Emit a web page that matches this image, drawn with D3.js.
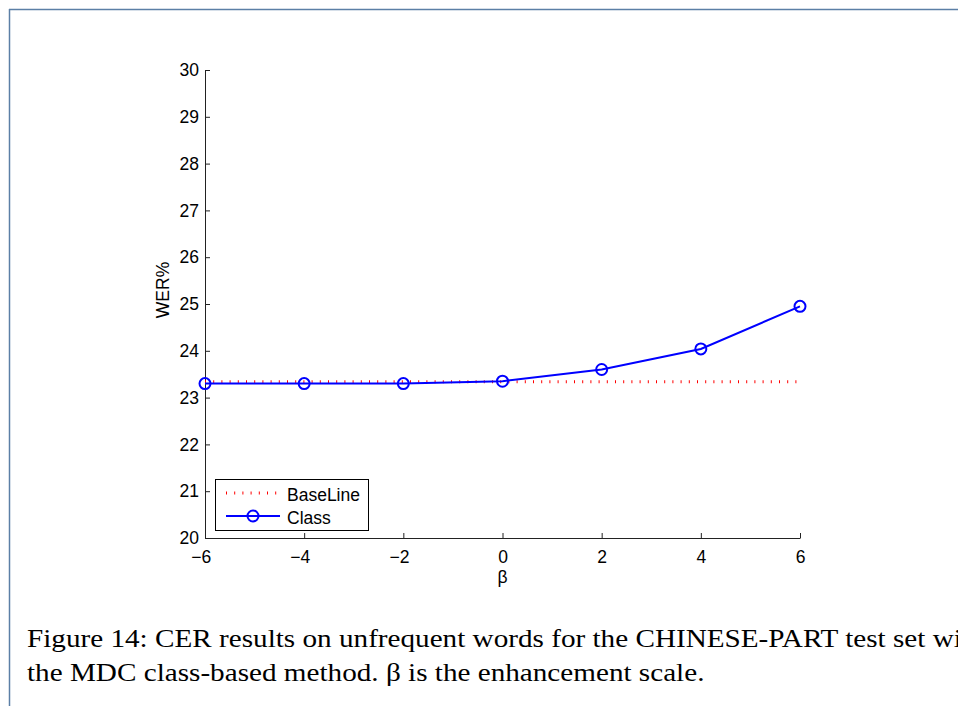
<!DOCTYPE html>
<html><head><meta charset="utf-8">
<script src="https://cdn.jsdelivr.net/npm/d3@7"></script>
<style>html,body{margin:0;padding:0;background:#fff;overflow:hidden}</style>
</head><body>
<svg id="c" width="958" height="706"></svg>
<script>
const betas = [-6, -4, -2, 0, 2, 4, 6];
const classWER = [23.3, 23.3, 23.3, 23.35, 23.6, 24.04, 24.95];
const baselineWER = 23.34;
const xTicks = [-6, -4, -2, 0, 2, 4, 6];
const yTicks = [20, 21, 22, 23, 24, 25, 26, 27, 28, 29, 30];
const seriesNames = ["BaseLine", "Class"];
const captionLines = [
  "Figure 14: CER results on unfrequent words for the CHINESE-PART test set with",
  "the MDC class-based method. β is the enhancement scale."
];

const svg = d3.select("#c");
const x = d3.scaleLinear().domain([-6, 6]).range([205, 800]);
const y = d3.scaleLinear().domain([20, 30]).range([538, 70]);
const font = "'Liberation Sans', Arial, Helvetica, sans-serif";
const fs = 17.5;

// frame
svg.append("line").attr("x1", 9).attr("y1", 9.5).attr("x2", 958).attr("y2", 9.5).attr("stroke", "#5b7fa6").attr("stroke-width", 1.5);
svg.append("line").attr("x1", 9.5).attr("y1", 9).attr("x2", 9.5).attr("y2", 706).attr("stroke", "#5b7fa6").attr("stroke-width", 1.5);

// axes
const xAxis = d3.axisBottom(x).tickValues(xTicks).tickSizeInner(-5).tickSizeOuter(0).tickPadding(13)
  .tickFormat(d => d < 0 ? "\u2212" + Math.abs(d) : d);
const gx = svg.append("g").attr("transform", `translate(0,${y(20)})`).call(xAxis);
const yAxis = d3.axisLeft(y).tickValues(yTicks).tickSizeInner(-5).tickSizeOuter(0).tickPadding(6);
const gy = svg.append("g").attr("transform", `translate(${x(-6)},0)`).call(yAxis);
[gx, gy].forEach(g => {
  g.attr("font-size", fs).attr("font-family", font);
  g.selectAll("path").attr("stroke", "#222").attr("stroke-width", 1);
  g.selectAll("line").attr("stroke", "#222");
  g.selectAll("text").style("font-family", font).style("font-size", fs + "px").attr("fill", "#000");
});
gx.selectAll("text").attr("dx", d => d < 0 ? "-0.25em" : 0);

// axis labels
svg.append("text").attr("transform", `translate(169,${y(25.3)}) rotate(-90)`).attr("text-anchor", "middle")
  .style("font-family", font).style("font-size", fs + "px").text("WER%");
svg.append("text").attr("x", x(0)).attr("y", 583).attr("text-anchor", "middle")
  .style("font-family", font).style("font-size", fs + "px").text("β");

// baseline
svg.append("line").attr("x1", x(-6)).attr("x2", x(6)).attr("y1", y(baselineWER)).attr("y2", y(baselineWER))
  .attr("stroke", "#ff0000").attr("stroke-width", 3).attr("stroke-dasharray", "1,7.2");

// class series
const line = d3.line().x((d, i) => x(betas[i])).y(d => y(d));
svg.append("path").datum(classWER).attr("d", line).attr("fill", "none").attr("stroke", "#0000ff").attr("stroke-width", 2);
svg.selectAll("circle.m").data(classWER).enter().append("circle").attr("class", "m")
  .attr("cx", (d, i) => x(betas[i])).attr("cy", d => y(d)).attr("r", 5.5)
  .attr("fill", "none").attr("stroke", "#0000ff").attr("stroke-width", 2);

// legend
const lg = svg.append("g");
lg.append("rect").attr("x", 215.5).attr("y", 479.5).attr("width", 153).attr("height", 51)
  .attr("fill", "#fff").attr("stroke", "#000").attr("stroke-width", 1);
lg.append("line").attr("x1", 226).attr("x2", 278).attr("y1", 493).attr("y2", 493)
  .attr("stroke", "#ff0000").attr("stroke-width", 3).attr("stroke-dasharray", "1,7.2");
lg.append("line").attr("x1", 226).attr("x2", 280).attr("y1", 516).attr("y2", 516)
  .attr("stroke", "#0000ff").attr("stroke-width", 2);
lg.append("circle").attr("cx", 253).attr("cy", 516).attr("r", 5.5).attr("fill", "none").attr("stroke", "#0000ff").attr("stroke-width", 2);
lg.selectAll("text.l").data(seriesNames).enter().append("text").attr("class", "l")
  .attr("x", 287).attr("y", (d, i) => 500.5 + i * 23).style("font-family", font).style("font-size", fs + "px").text(d => d);

// caption
const capG = svg.append("g");
const caps = capG.selectAll("text.cap").data(captionLines).enter().append("text").attr("class", "cap")
  .attr("x", 0).attr("y", (d, i) => 647 + i * 34)
  .style("font-family", "'Liberation Serif', 'DejaVu Serif', serif").style("font-size", "25px").text(d => d);
const w2 = caps.nodes()[1].getComputedTextLength();
const sx = 678 / w2;
capG.attr("transform", `translate(27,0) scale(${sx},1)`);
</script>
</body></html>
